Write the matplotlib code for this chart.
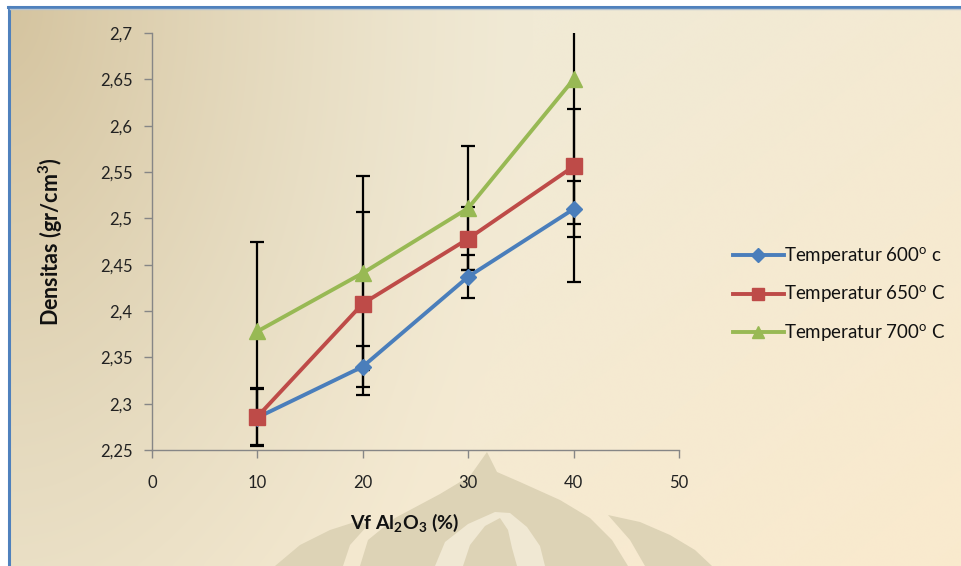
import numpy as np
import matplotlib.pyplot as plt
from matplotlib.patches import Polygon
from matplotlib.ticker import FuncFormatter
from matplotlib.lines import Line2D

# data
vf = [10, 20, 30, 40]
labels = ["Temperatur 600$^{\\mathregular{o}}$ c",
          "Temperatur 650$^{\\mathregular{o}}$ C",
          "Temperatur 700$^{\\mathregular{o}}$ C"]
dens_600 = [2.285, 2.340, 2.437, 2.510]
dens_650 = [2.286, 2.408, 2.478, 2.556]
dens_700 = [2.378, 2.441, 2.511, 2.650]
err_600 = [0.031, 0.022, 0.023, 0.030]
err_650 = [0.031, 0.099, 0.034, 0.062]
err_700 = [0.097, 0.105, 0.067, 0.219]

plt.rcParams['font.family'] = ['Lato', 'DejaVu Sans']

W, H = 961, 566
fig = plt.figure(figsize=(W / 100, H / 100), dpi=100)

# background: slide style gradient
bg = fig.add_axes([0, 0, 1, 1], zorder=-10)
xx, yy = np.meshgrid(np.linspace(0, 1, 300), np.linspace(0, 1, 180))
cream_a = np.array([0xf1, 0xea, 0xd5]) / 255
cream_b = np.array([0xfb, 0xea, 0xcd]) / 255
tan = np.array([0xd4, 0xc3, 0x9e]) / 255
s = np.clip((xx * 0.8 + yy * 0.6) - 0.5, 0, 1)[..., None]
base = cream_a * (1 - s) + cream_b * s
r = np.sqrt((xx / 0.55) ** 2 + (yy / 1.6) ** 2)
w = (np.clip(1 - r, 0, 1) ** 1.3)[..., None]
img = base * (1 - w) + tan * w
bg.imshow(img, extent=[0, W, H, 0], aspect='auto', interpolation='bicubic')
bg.set_xlim(0, W)
bg.set_ylim(H, 0)

# faint logo watermark at the bottom
wm = '#ddd3b6'
lite = '#f0e8d3'
bg.add_patch(Polygon([[275, 566], [300, 545], [330, 530], [358, 521], [368, 525],
                      [350, 545], [343, 566]], fc=wm, ec='none'))
bg.add_patch(Polygon([[360, 566], [368, 540], [395, 518], [440, 494], [470, 476],
                      [487, 452], [497, 472], [520, 482], [560, 500], [590, 518],
                      [612, 540], [628, 566]], fc=wm, ec='none'))
bg.add_patch(Polygon([[608, 515], [640, 522], [670, 535], [695, 550], [712, 566],
                      [645, 566], [630, 540]], fc=wm, ec='none'))
bg.add_patch(Polygon([[435, 566], [445, 542], [468, 524], [495, 512], [510, 513],
                      [527, 527], [540, 546], [545, 566]], fc=lite, ec='none'))
bg.add_patch(Polygon([[463, 566], [470, 545], [485, 526], [500, 518], [508, 530],
                      [512, 548], [517, 566]], fc=wm, ec='none'))

# slide frame
bg.fill_between([0, W], 0, 6, color='white', lw=0)
bg.fill_between([0, 8], 0, H, color='white', lw=0)
bg.plot([8, W], [7, 7], color='#4f81bd', lw=2.2)
bg.plot([9, 9], [7, H], color='#4f81bd', lw=2.2)
bg.plot([10, W], [9, 9], color='#b8c4d0', lw=1.0)
bg.axis('off')

ax = fig.add_axes([152 / W, 1 - 450 / H, (679 - 152) / W, (450 - 33) / H])
ax.patch.set_alpha(0)

series = [
    (dens_600, err_600, '#4a7ebb', 'D', 8),
    (dens_650, err_650, '#be4b48', 's', 11),
    (dens_700, err_700, '#98b954', '^', 11),
]
handles = []
for d, e, col, mk, ms in series:
    ax.errorbar(vf, d, yerr=e, fmt='none', ecolor='black', elinewidth=1.6,
                capsize=5, capthick=1.6, zorder=2)
for i, (d, e, col, mk, ms) in enumerate(series):
    ax.plot(vf, d, color=col, lw=2.8, marker=mk, ms=ms, mec=col, mfc=col,
            zorder=3 + i)
    handles.append(Line2D([], [], color=col, lw=2.8, marker=mk,
                          ms=ms * 0.85, mec=col, mfc=col))

ax.set_xlim(0, 50)
ax.set_ylim(2.25, 2.7)
ax.set_xticks(np.arange(0, 51, 10))
ax.set_yticks(np.arange(2.25, 2.701, 0.05))
ax.yaxis.set_major_formatter(FuncFormatter(
    lambda v, p: ('%.2f' % v).rstrip('0').rstrip('.').replace('.', ',')))

for side in ['top', 'right']:
    ax.spines[side].set_visible(False)
for side in ['left', 'bottom']:
    ax.spines[side].set_color('#868686')
    ax.spines[side].set_linewidth(1.0)
ax.tick_params(axis='both', colors='#868686', labelcolor='#222222',
               labelsize=12, length=6, width=1.0)
ax.tick_params(axis='x', pad=12)
ax.tick_params(axis='y', pad=8)

ax.set_xlabel('Vf Al$_{\\mathregular{2}}$O$_{\\mathregular{3}}$ (%)',
              fontsize=14, fontweight='bold', color='#111111')
ax.xaxis.set_label_coords(0.48, -0.148)
ax.set_ylabel('Densitas (gr/cm$^{\\mathregular{3}}$)',
              fontsize=15.5, fontweight='bold', color='#111111')
ax.yaxis.set_label_coords(-0.165, 0.5)

fig.legend(handles, labels, loc='upper left',
           bbox_to_anchor=(716 / W, 1 - 228 / H), frameon=False,
           fontsize=13.5, handlelength=2.7, handletextpad=0.05,
           labelspacing=0.9, labelcolor='#111111')

fig.savefig('out.png', dpi=100)
